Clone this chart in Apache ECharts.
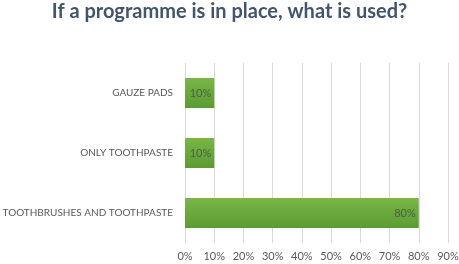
<!DOCTYPE html>
<html>
<head>
<meta charset="utf-8">
<script src="https://cdn.jsdelivr.net/npm/echarts@6/dist/echarts.min.js"></script>
<style>
  html, body { margin: 0; padding: 0; background: #fff; }
  #chart { width: 459px; height: 264px; }
</style>
</head>
<body>
<div id="chart"></div>
<script>
// categories bottom to top (category axis starts at bottom)
const categories = ['TOOTHBRUSHES AND TOOTHPASTE', 'ONLY TOOTHPASTE', 'GAUZE PADS'];
const values = [80, 10, 10];
const ticks = [0, 10, 20, 30, 40, 50, 60, 70, 80, 90];

const chart = echarts.init(document.getElementById('chart'), null, { renderer: 'canvas' });

chart.setOption({
    animation: false,
    title: {
        text: 'If a programme is in place, what is used?',
        left: 'center',
        top: -3,
        textStyle: { fontFamily: 'Lato', fontSize: 20, fontWeight: 'bold', color: '#44546a' }
    },
    grid: { left: 185, right: 11, top: 63, bottom: 21, containLabel: false, outerBoundsMode: 'none' },
    xAxis: {
        type: 'value',
        min: ticks[0],
        max: ticks[ticks.length - 1],
        interval: 10,
        axisLine: { show: false },
        axisTick: { show: false },
        splitLine: { lineStyle: { color: '#d9d9d9', width: 1 } },
        axisLabel: {
            formatter: '{value}%',
            color: '#595959',
            fontFamily: 'Lato',
            fontSize: 11,
            margin: 8
        }
    },
    yAxis: {
        type: 'category',
        data: categories,
        axisLine: { show: false },
        axisTick: { show: false },
        axisLabel: { color: '#595959', fontFamily: 'Lato', fontSize: 10, margin: 12 }
    },
    series: [{
        type: 'bar',
        data: values,
        barWidth: 30,
        itemStyle: {
            color: new echarts.graphic.LinearGradient(0, 0, 0, 1, [
                { offset: 0, color: '#7ab648' },
                { offset: 0.5, color: '#6aa83c' },
                { offset: 1, color: '#5e9a33' }
            ])
        },
        label: {
            show: true,
            position: 'insideRight',
            formatter: '{c}%',
            color: '#4a6240',
            fontFamily: 'Lato',
            fontSize: 11,
            offset: [2, 0]
        }
    }]
});
</script>
</body>
</html>
